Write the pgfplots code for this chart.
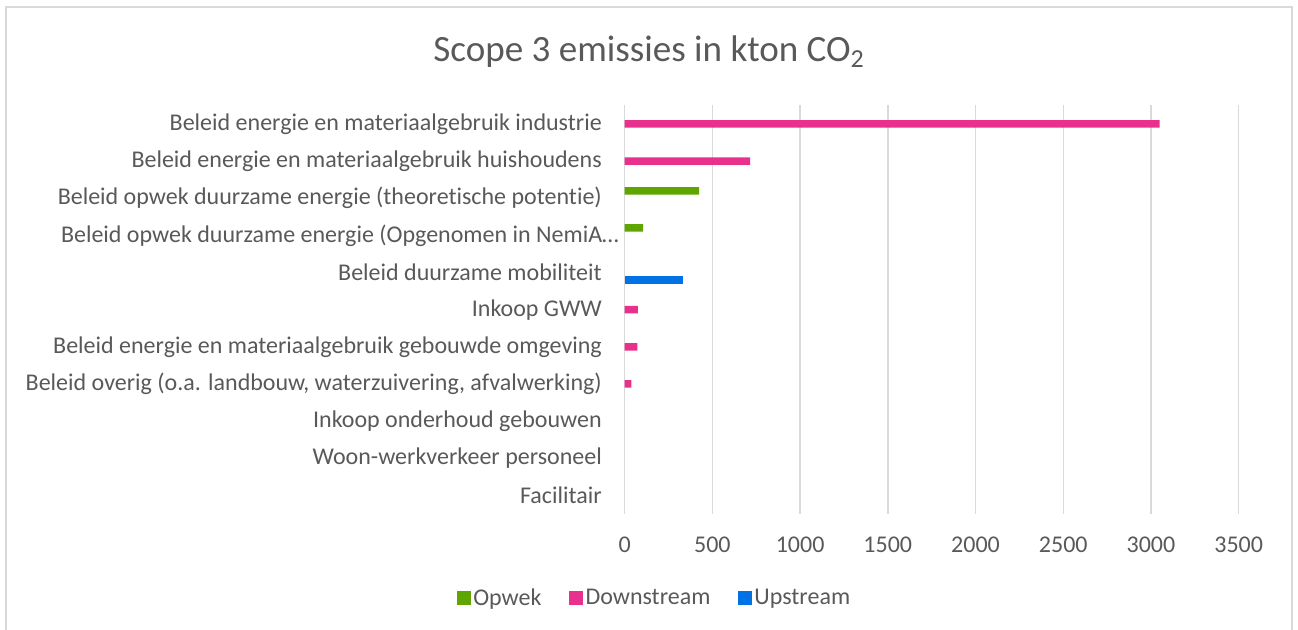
\documentclass[border=0pt]{standalone}
\usepackage{fontspec}
\setmainfont{Carlito}[Ligatures=NoCommon]
\usepackage{pgfplots}
\pgfplotsset{compat=1.18}
\definecolor{opw}{HTML}{5EA500}
\definecolor{dwn}{HTML}{E8318C}
\definecolor{ups}{HTML}{0072E3}
\definecolor{txt}{HTML}{595959}
\definecolor{grd}{HTML}{D9D9D9}
\begin{document}
\begin{tikzpicture}
\path[use as bounding box] (0,0) rectangle (973.5pt,472.5pt);
\draw[color=grd, line width=1.5pt] (4.5pt,-5pt) -- (4.5pt,467.25pt) -- (969pt,467.25pt) -- (969pt,-5pt);
\node[anchor=base, font=\fontsize{27.8}{32}\selectfont, text=txt, inner sep=0pt] at (486.75pt,426pt) {Scope 3 emissies in kton CO\textsubscript{2}};
\begin{axis}[
  at={(468.5pt,87pt)}, anchor=south west,
  scale only axis, width=460.5pt, height=306.5pt,
  xbar, bar width=5.6pt,
  xmin=0, xmax=3500, ymin=-0.5, ymax=10.5, y dir=reverse,
  xtick={0,500,...,3500},
  ytick={0,...,10},
  yticklabels={
    Beleid energie en materiaalgebruik industrie,
    Beleid energie en materiaalgebruik huishoudens,
    Beleid opwek duurzame energie (theoretische potentie),
    {Beleid opwek duurzame energie (Opgenomen in NemiA…\hspace*{-12.75pt}},
    Beleid duurzame mobiliteit,
    Inkoop GWW,
    Beleid energie en materiaalgebruik gebouwde omgeving,
    {Beleid overig (o.a. landbouw, waterzuivering, afvalwerking)},
    Inkoop onderhoud gebouwen,
    Woon-werkverkeer personeel,
    Facilitair},
  xmajorgrids, grid style={color=grd, line width=1.1pt},
  axis line style={draw=none},
  major tick length=0pt,
  /pgf/number format/assume math mode=true,
  /pgf/number format/1000 sep={},
  tick label style={font=\fontsize{18}{21}\selectfont, text=txt},
  xticklabel style={anchor=center, yshift=-23.25pt},
  yticklabel style={anchor=east, inner sep=0pt, xshift=-17pt},
  legend style={at={(0.049,-0.2056)}, anchor=center, draw=none, fill=none,
    font=\fontsize{18}{21}\selectfont, text=txt,
    /tikz/every even column/.append style={column sep=18.5pt}},
  legend columns=3,
  legend image code/.code={\fill[#1] (0pt,-5.25pt) rectangle (10.5pt,5.25pt);},
]
\addplot[fill=opw, draw=none, bar shift=5.55pt] coordinates {(425,2) (105,3)};
\addplot[fill=dwn, draw=none, bar shift=0pt] coordinates {(3050,0) (715,1) (75,5) (72,6) (38,7)};
\addplot[fill=ups, draw=none, bar shift=-5.55pt] coordinates {(330,4)};
\legend{Opwek, Downstream, Upstream}
\end{axis}
\end{tikzpicture}
\end{document}
